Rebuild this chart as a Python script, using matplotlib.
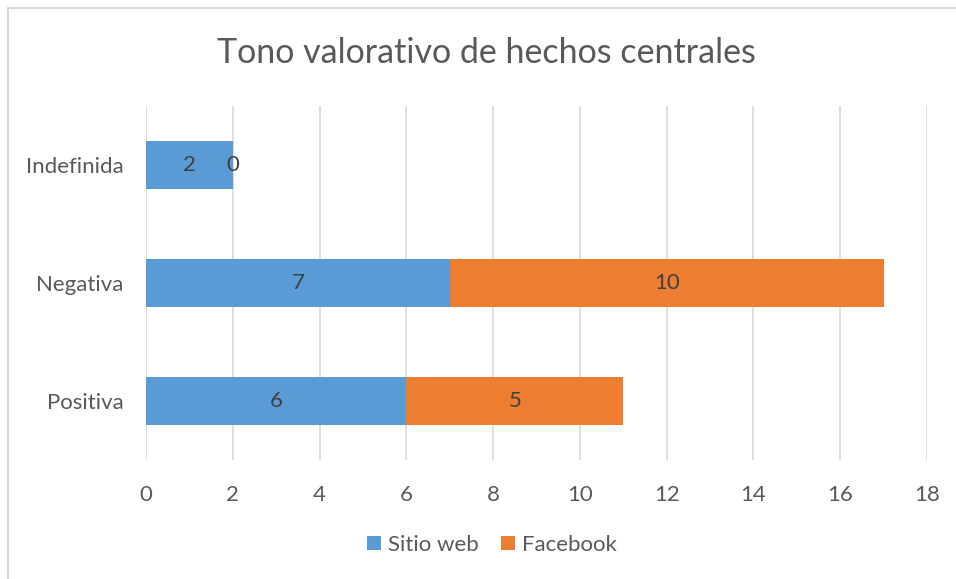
import matplotlib
matplotlib.use("Agg")
import matplotlib.pyplot as plt
from matplotlib.lines import Line2D

categories = ["Positiva", "Negativa", "Indefinida"]
sitio_web = [6, 7, 2]
facebook = [5, 10, 0]
series_names = ["Sitio web", "Facebook"]
xticks = [0, 2, 4, 6, 8, 10, 12, 14, 16, 18]
title = "Tono valorativo de hechos centrales"

plt.rcParams['font.family'] = ['Lato', 'DejaVu Sans']
txt = '#595959'
blue = '#5B9BD5'
orange = '#ED7D31'

fig = plt.figure(figsize=(9.56, 5.79), dpi=100)
bx = 7.5 / 956
by = 1 - 7.5 / 579
fig.add_artist(Line2D([bx, bx], [0, by], transform=fig.transFigure, color='#D9D9D9', linewidth=1.5))
fig.add_artist(Line2D([bx, 1], [by, by], transform=fig.transFigure, color='#D9D9D9', linewidth=1.5))

ax = fig.add_axes([0.1527, 0.2055, 0.817, 0.6114])
y = list(range(len(categories)))
b1 = ax.barh(y, sitio_web, height=0.4, color=blue, label=series_names[0], zorder=3)
b2 = ax.barh(y, facebook, left=sitio_web, height=0.4, color=orange, label=series_names[1], zorder=3)
ax.bar_label(b1, labels=[str(v) for v in sitio_web], label_type='center', color='#404040', fontsize=16)
ax.bar_label(b2, labels=[str(v) for v in facebook], label_type='center', color='#404040', fontsize=16)

ax.set_xlim(0, 18)
ax.set_ylim(-0.5, 2.5)
ax.set_xticks(xticks)
ax.set_xticklabels([str(t) for t in xticks])
ax.set_yticks(y)
ax.set_yticklabels(categories)
ax.tick_params(axis='both', length=0, labelsize=16, labelcolor=txt)
ax.tick_params(axis='x', pad=18)
ax.tick_params(axis='y', pad=16)
ax.grid(axis='x', color='#D9D9D9', linewidth=1.2, zorder=0)
for s in ax.spines.values():
    s.set_visible(False)

fig.text(0.509, 0.908, title, ha='center', va='center', fontsize=24.5, color=txt)
fig.legend(handles=[b1, b2], loc='center', bbox_to_anchor=(0.515, 0.0587), ncol=2,
           frameon=False, fontsize=16, labelcolor=txt, handlelength=0.6, handleheight=0.6,
           columnspacing=1.0, handletextpad=0.35)

fig.savefig("out.png", dpi=100)
